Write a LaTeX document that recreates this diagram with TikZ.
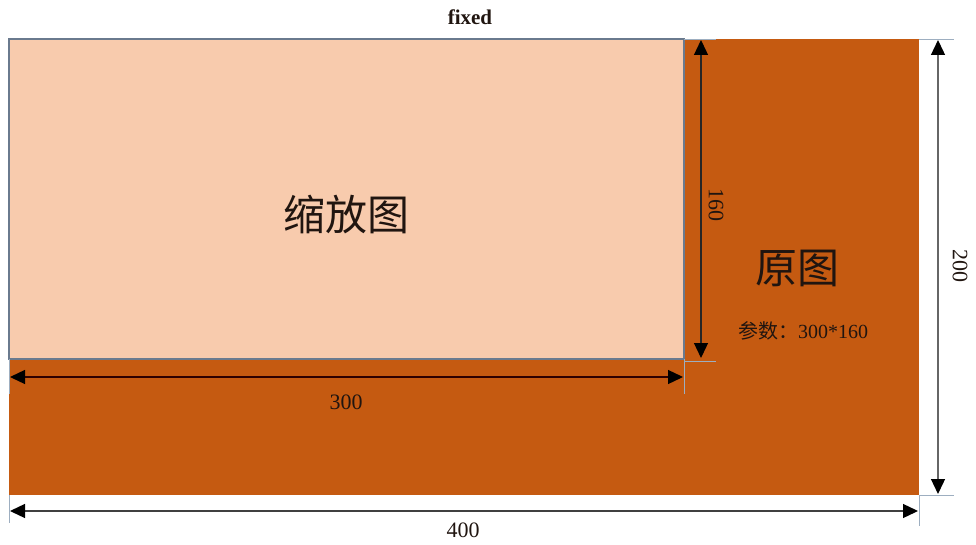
\documentclass[tikz,border=0pt]{standalone}
\usepackage{fontspec}
\setmainfont{Liberation Serif}
\newfontfamily\cjk{Noto Sans CJK SC}
\usetikzlibrary{arrows.meta}
\definecolor{orig}{HTML}{C55A11}
\definecolor{zoomc}{HTML}{F8CBAD}
\definecolor{edge}{HTML}{6A7A8E}
\definecolor{ext}{HTML}{9DAEC0}
\definecolor{txt}{HTML}{201510}
\tikzset{
  dimline/.style={line width=1.3pt, {Triangle[length=15pt,width=14pt,fill=black,color=black]}-{Triangle[length=15pt,width=14pt,fill=black,color=black]}},
  extline/.style={draw=ext, line width=0.9pt},
  lbl/.style={text=txt, inner sep=0pt, font=\fontsize{22}{24}\selectfont},
  big/.style={text=txt, inner sep=0pt, font=\cjk\fontsize{42}{46}\selectfont},
}
\begin{document}
\begin{tikzpicture}[x=1pt,y=-1pt]
\useasboundingbox (0,0) rectangle (976,545);
% corners
\coordinate (oTL) at (9,39);
\coordinate (oBR) at (919,495);
\coordinate (zBR) at (684,359);
% original rectangle
\fill[orig] (oTL) rectangle (oBR);
% zoomed rectangle
\filldraw[fill=zoomc, draw=edge, line width=1.8pt] (oTL) rectangle (zBR);
% extension lines
\coordinate (e160a) at (716,39);
\coordinate (e160b) at (716,361);
\coordinate (e160c) at (684,361);
\draw[extline] (684,39) -- (e160a);
\draw[extline] (e160c) -- (e160b);
\coordinate (e300a) at (684,394);
\coordinate (e300b) at (9,394);
\draw[extline] (zBR) -- (e300a);
\draw[extline] (9,359) -- (e300b);
\coordinate (e200a) at (954,39);
\coordinate (e200b) at (954,495);
\draw[extline] (919,39) -- (e200a);
\draw[extline] (oBR) -- (e200b);
\coordinate (e400a) at (9,523);
\coordinate (e400b) at (919,526);
\draw[extline] (9,495) -- (e400a);
\draw[extline] (oBR) -- (e400b);
% dimension arrow end points
\coordinate (d160t) at (701,40);
\coordinate (d160b) at (701,358);
\coordinate (d300l) at (10,377);
\coordinate (d300r) at (683,377);
\coordinate (d200t) at (938,40);
\coordinate (d200b) at (938,494);
\coordinate (d400l) at (10,511);
\coordinate (d400r) at (918,511);
\draw[dimline, draw=black!85] (d160t) -- (d160b);
\draw[dimline, draw=black!70!red!60!black] (d300l) -- (d300r);
\draw[dimline, draw=black!60] (d200t) -- (d200b);
\draw[dimline, draw=black!75] (d400l) -- (d400r);
% labels
\node[lbl, font=\bfseries\fontsize{21}{24}\selectfont] (fixed) at (470,17) {fixed};
\node[big] (zoomlbl) at (346,215) {缩放图};
\node[big] (origlbl) at (797,268) {原图};
\node[lbl, font=\fontsize{20}{22}\selectfont] (param) at (803,331) {{\cjk 参数：}300*160};
\node[lbl, rotate=-90] (l160) at (716,205) {160};
\node[lbl] (l300) at (346,402) {300};
\node[lbl, rotate=-90] (l200) at (960,266) {200};
\node[lbl] (l400) at (463,530) {400};
\end{tikzpicture}
\end{document}
